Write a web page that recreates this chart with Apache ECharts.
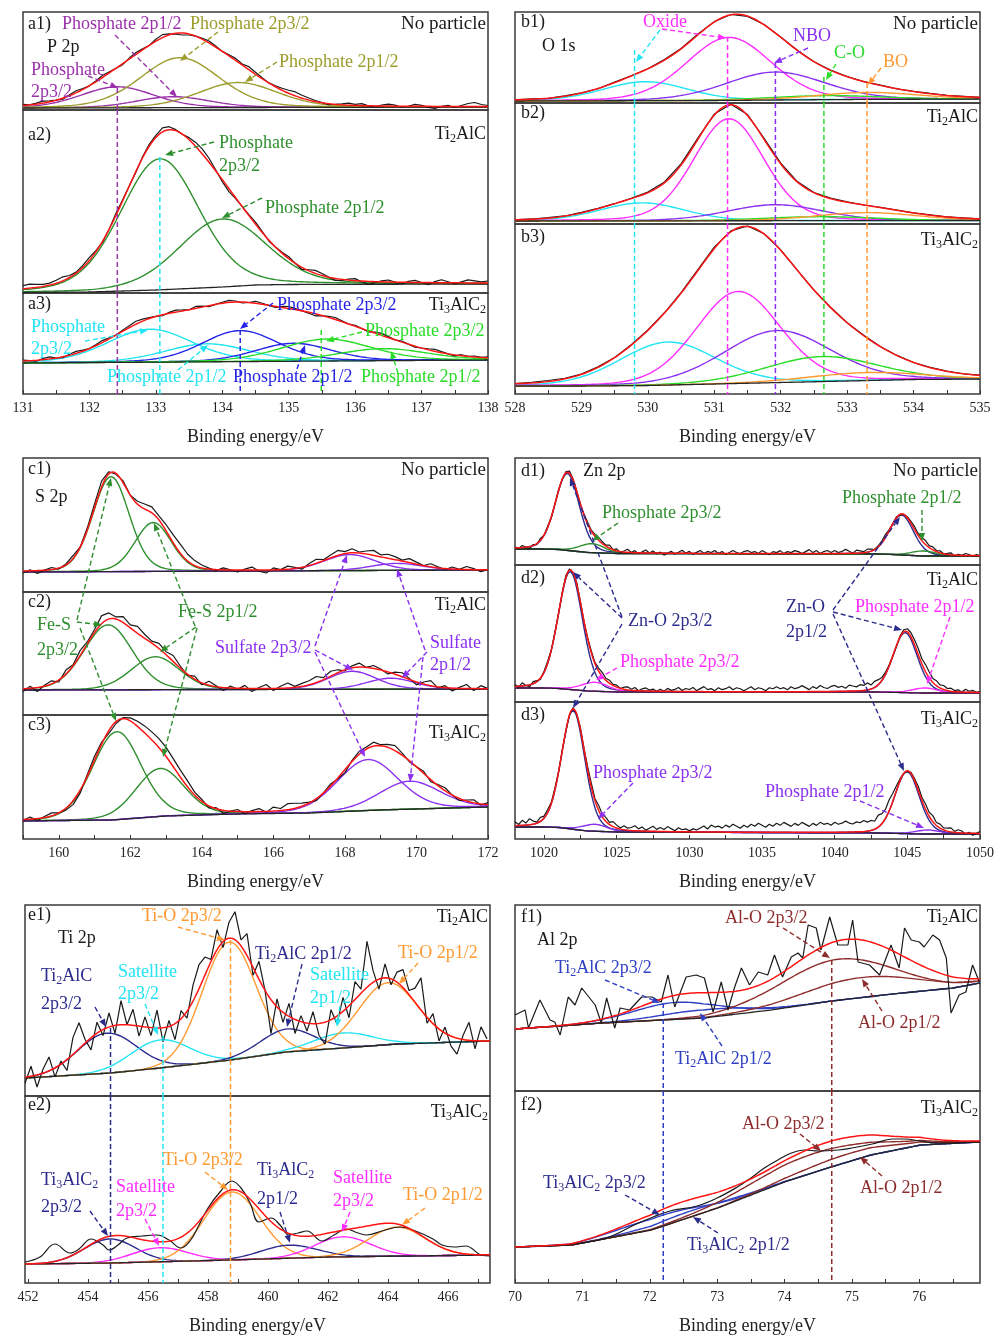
<!DOCTYPE html>
<html>
<head>
<meta charset="utf-8">
<title>XPS spectra</title>
<script src="https://cdn.jsdelivr.net/npm/echarts@6.0.0/dist/echarts.min.js"></script>
<style>
html,body{margin:0;padding:0;background:#fff;}
#chart{width:1006px;height:1340px;}
</style>
</head>
<body>
<div id="chart"></div>
<script>
// ================= DATA (intensity in arbitrary units) =================
// axis ranges and tick labels (binding energy, eV)
const rangeA = [131, 138];   const labelsA = [131,132,133,134,135,136,137,138];
const rangeB = [528, 535];   const labelsB = [528,529,530,531,532,533,534,535];
const rangeC = [159, 172];   const labelsC = [160,162,164,166,168,170,172];
const rangeD = [1018, 1050]; const labelsD = [1020,1025,1030,1035,1040,1045,1050];
const rangeE = [451.9, 467.4]; const labelsE = [452,454,456,458,460,462,464,466];
const rangeF = [70, 76.9];   const labelsF = [70,71,72,73,74,75,76];

// fitted components: [centre eV, height, FWHM eV]; backgrounds: [eV, level]
// ---- P 2p ----
const peaksA1 = [[132.42,21,1.3],[133.26,11,1.3],[133.36,50,1.4],[134.24,25,1.4]];
const bgA1 = [[131,2],[138,3]];
const noiseA1 = [1,0,1,2,1,0,-1,1,2,1, 0,1,2,1,0,-1,1,2,1,0, 2,3,1,-1,-2,-1,0,1,2,1, 0,1,2,1,3,2,1,0,1,2, 3,4,3,2,1,0,-1,0,1,2, 1,2,0,-1,1,2,1,-1,0,2, 1,-1,-2,0,1,-1,1,3,4,2, 1];
const peaksA2 = [[133.06,131,1.4],[134.0,68,1.55]];
const bgA2 = [[131,0.5],[132,1],[133,3],[134,6],[134.5,8],[135,8.5],[138,9]];
const noiseA2 = [3,4,3,2,2,3,4,2,1,2, 3,1,-1,0,2,1,0,-1,1,2, 2,4,3,1,0,2,4,5,4,1, -2,-3,-1,0,1,2,1,-1,0,1, 2,0,-2,1,3,2,0,-2,-1,1, 2,-1,-3,-1,1,2,0,-2,1,2, 0,-2,1,3,1,-1,1,3,2,1, 2];
const peaksA3 = [[132.91,33,1.5],[133.77,18,1.5],[134.27,31,1.35],[135.07,18,1.35],[135.57,22,1.6],[136.42,12,1.6]];
const bgA3 = [[131,31],[138,34]];
const noiseA3 = [1,0,-1,1,2,0,-1,1,2,1, 0,1,2,1,0,1,2,3,2,1, 0,-1,1,2,1,0,2,1,-1,0, 1,2,1,-1,0,2,1,0,-1,1, 2,1,0,-1,-2,0,1,2,1,0, 1,0,-1,1,2,1,0,1,0,-1, 0,1,2,1,0,-1,1,0,1,0, 1];
// ---- O 1s ----
const peaksB1 = [[529.96,19,1.5],[531.22,63,1.5],[531.92,28,1.76],[532.67,4,2.0],[533.32,7,1.8]];
const bgB1 = [[528,2],[531,2.5],[533,3.5],[535,4]];
const noiseB1 = [0,0.3,-0.2,0.4,0.2,-0.3,0.5,0.3,0,0.6,0.4,0.8,0.5,0.2,-0.3,0.2,0.4,0.1,-0.2,0.3,0.2,0,0.3,-0.2,0.1,0.3,0,0.2,0];
const peaksB2 = [[529.91,18,1.5],[531.22,102,1.25],[531.92,16,1.7],[532.6,4,2.0],[533.3,8,1.8]];
const bgB2 = [[528,3],[535,3.5]];
const noiseB2 = [0,0.2,0.4,0.1,0.5,0.3,0,0.4,0.6,0.8,1.2,1.5,1.0,0.6,1.0,1.2,0.8,0.4,0.2,0.5,0.3,0,0.4,0.2,0.1,0.3,0,0.2,0];
const peaksB3 = [[530.3,43,1.7],[531.36,92,1.5],[531.95,52,1.9],[532.62,25,2.0],[533.3,8,2.0]];
const bgB3 = [[528,8],[529,8],[530,8.5],[531,10],[532,11.5],[533,13],[534,14.5],[535,15]];
const noiseB3 = [0,0.5,1.0,0.6,0.3,0.5,0.2,0.6,0.4,0.2,0.5,1.0,1.4,0.8,0.5,0.2,0.4,0.1,-0.2,0.3,0,0.4,0.2,0.1,-0.1,0.3,0.2,0,0.1];
// ---- S 2p ----
const peaksC1 = [[161.46,95,1.2],[162.64,49,1.2],[168.13,16,1.7],[169.45,7,1.7]];
const bgC1 = [[159,20],[172,22]];
const noiseC1 = [-2,1,-3,0,2,-1,1,3,0,2, 4,6,2,-1,2,0,3,5,6,4, 6,8,9,7,5,3,1,-1,2,0, -2,1,3,-1,-3,2,0,3,1,-2, 2,4,1,3,5,2,4,1,3,5, 2,4,3,1,4,2,0,3,1,-1, 2,0,3,1,-2,0];
const peaksC2 = [[161.38,65,1.6],[162.7,33,1.6],[168.2,18,1.6],[169.28,11,1.6]];
const bgC2 = [[159,25],[172,26]];
const noiseC2 = [-3,2,-4,1,3,-2,4,1,5,2, 3,8,6,2,6,3,7,4,2,5, 3,6,2,-1,3,-2,4,1,-3,2, -1,3,-3,1,4,-2,2,5,1,3, 4,6,2,5,3,-1,2,4,0,3, 1,-2,2,4,1,-3,2,5,-1,2, -3,1,4,-2,3,0];
const peaksC3 = [[161.62,88,1.6],[162.83,48,1.6],[168.64,51,2.0],[169.81,28,2.0]];
const bgC3 = [[159,18],[161.5,19],[163,23],[165,25],[167,26],[169,29],[172,32]];
const noiseC3 = [-1,2,-2,1,3,0,-2,-4,-3,2, 4,2,-3,-2,1,3,5,7,8,9, 9,8,7,6,3,2,-2,1,-3,0, 2,-2,1,3,-1,4,2,6,5,3, 1,-2,0,2,-1,-3,1,3,2,4, 1,3,5,2,-1,0,2,-2,1,3, 0,-2,1,3,-1,2];
// ---- Zn 2p ----
const peaksD1 = [[1021.6,77,1.95],[1023.3,9,2.0],[1044.6,40,1.95],[1046.1,5,2.0]];
const bgD1 = [[1018,16],[1020,16],[1021,15.5],[1023,12.5],[1025,11.5],[1043,11],[1044,10.5],[1046,9],[1050,9]];
const noiseD1 = [1,-1,2,0,-2,1,-1,2, 0,1,-1,0,1,0,1,2, 1,0,-1,1,2,1,2,3, 2,1,3,0,2,-1,1,3, 0,2,-1,1,3,0,2,-1, 1,-2,0,2,-1,1,3,0, 2,-1,1,3,0,2,1,3, 0,2,-1,1,3,1,0,2, 3,1,2,0,3,1,-1,2, 1,3,0,2,1,3,2,0, 2,4,1,3,0,2,3,1, 3,1,2,4,2,0,3,2, 1,3,2,0,1,2,3,1, 0,1,-1,0,1,2,3,2, 3,4,2,3,1,2,0,1, 2,-1,1,0,2,1,-1,1, 0];
const peaksD2 = [[1021.8,118,2.0],[1023.5,9,2.2],[1044.85,60,2.0],[1046.2,5,2.0]];
const bgD2 = [[1018,14],[1020,14],[1021,13.5],[1023,11],[1025,10],[1043,10],[1046,9],[1050,9]];
const noiseD2 = [2,-1,3,0,-2,2,1,-1, 1,2,0,1,0,1,2,1, 0,2,1,0,1,2,1,3, 4,2,3,1,2,0,2,3, 1,3,0,2,3,1,2,0, 2,0,3,1,2,4,1,3, 2,4,1,3,5,2,3,1, 4,2,3,5,2,4,3,1, 3,5,2,4,3,1,4,3, 5,3,4,2,5,3,4,6, 4,2,5,3,6,4,3,5, 6,4,5,3,6,5,4,6, 5,7,4,6,5,3,2,1, 0,-1,1,2,3,4,5,6, 5,7,6,4,5,3,4,2, 3,1,2,0,3,1,2,0, 1];
const peaksD3 = [[1022.0,119,1.9],[1023.5,7,2.0],[1044.98,62,2.0],[1046.4,4,2.0]];
const bgD3 = [[1018,12],[1020,12],[1021,11.5],[1023,8],[1025,7],[1043,6],[1046,5],[1050,5]];
const noiseD3 = [4,1,5,2,6,3,1,4, 2,3,1,2,0,1,-1,0, 1,0,2,1,3,4,2,5, 3,4,2,5,3,1,4,2, 3,5,2,4,1,3,5,2, 4,2,5,3,1,4,2,3, 1,3,2,4,6,3,7,5, 6,4,7,5,8,6,4,7, 5,8,6,9,7,5,8,6, 9,7,10,8,6,9,7,10, 8,6,9,7,10,8,9,7, 10,8,9,11,9,8,10,9, 11,9,10,8,12,10,9,11, 8,5,2,0,-1,1,2,4, 3,5,4,6,3,4,2,3, 4,1,3,2,-1,1,-2,0, 2];
// ---- Ti 2p ----
const peaksE1 = [[454.63,40,2.3],[456.4,28,2.3],[458.7,118,2.1],[460.63,23,2.1],[462.5,15,2.3],[464.0,62,2.3]];
const bgE1 = [[451.9,18],[454.75,23],[456.4,28],[458.75,36],[460.6,44],[462.5,48],[464.3,52],[467.4,55]];
const noiseE1 = [-6,10,-12,4,14,-9,3,-11,17,26, 4,-12,11,-6,14,-8,24,0,16,-10, 10,-8,18,-14,6,-16,8,-7,16,24, 18,2,20,-6,16,28,6,22,-8,18, 0,-34,8,-10,13,-14,6,-8,12,-12, -22,10,-8,14,-12,18,4,46,12,-10, 14,-6,10,18,4,14,32,-6,10,-12, 6,-10,-16,4,18,-8,14,2];
const peaksE2 = [[454.73,24,2.0],[456.4,14,2.2],[458.8,68,2.2],[460.7,13,2.2],[462.5,20,2.2],[464.3,29,2.2]];
const bgE2 = [[451.9,19],[454.75,20],[458.75,23],[462,26],[467.4,28]];
const rawE2 = [[451.9,21],[452.4,26],[452.9,39],[453.4,30],[453.7,34],[454.1,44],[454.5,38],[454.7,33],[455.0,38],[455.3,45],[455.8,47],[456.3,48],[456.7,43],[457.1,35],[457.4,42],[457.7,58],[458.0,75],[458.4,91],[458.8,102],[459.1,95],[459.4,80],[459.7,61],[460.1,65],[460.4,58],[460.7,48],[461.0,50],[461.3,52],[461.8,42],[462.2,48],[462.6,54],[463.0,50],[463.3,48],[463.8,52],[464.4,56],[465.0,51],[465.5,44],[465.8,38],[466.2,36],[466.6,37],[467.1,28],[467.4,27]];
// ---- Al 2p ----
const peaksF1 = [[72.41,17,1.5],[72.81,8,1.5],[74.79,41,2.0],[75.14,20,2.0]];
const bgF1 = [[70,62],[71.3,68],[72.8,73],[73.8,81],[74.7,90],[75.6,97],[76.5,103],[76.9,108]];
const rawF1 = [[70.0,76],[70.15,81],[70.2,63],[70.37,91],[70.52,71],[70.59,69],[70.67,56],[70.79,94],[70.89,86],[70.99,103],[71.19,86],[71.28,68],[71.36,93],[71.48,63],[71.56,83],[71.7,81],[71.88,94],[72.03,94],[72.17,89],[72.27,116],[72.37,84],[72.54,114],[72.69,116],[72.81,113],[72.94,79],[73.06,109],[73.16,81],[73.26,104],[73.36,123],[73.48,106],[73.61,119],[73.75,116],[73.85,136],[73.97,114],[74.1,134],[74.2,138],[74.27,133],[74.35,166],[74.47,163],[74.54,141],[74.67,174],[74.79,146],[74.94,146],[75.01,171],[75.09,129],[75.26,126],[75.41,116],[75.58,146],[75.7,123],[75.78,163],[75.88,151],[76.0,149],[76.07,144],[76.2,156],[76.3,151],[76.4,133],[76.47,78],[76.59,96],[76.69,99],[76.79,126],[76.89,109]];
const peaksF2 = [[72.18,11,1.5],[72.62,6,1.5],[74.45,19,2.2],[74.95,8,1.8]];
const bgF2 = [[70,36],[70.84,38],[72.02,53],[73.01,75],[74.0,101],[74.69,116],[75.28,128],[76.02,138],[76.89,141]];
const rawF2 = [[70,36],[70.5,37],[71,40],[71.4,46],[71.8,59],[72.05,66],[72.3,72],[72.7,77],[73.0,85],[73.3,96],[73.5,105],[73.7,115],[73.9,123],[74.1,130],[74.3,133],[74.5,132],[74.8,133],[75.0,135],[75.3,139],[75.6,144],[75.8,144],[76.0,142],[76.3,140],[76.9,141]];

// reference (dashed) peak positions, eV; h = level where the line starts in the first panel
const refLines = [
 {x:132.42, from:'a1', h:22, c:'purpleA'}, {x:133.06, from:'a2', h:136, c:'cyan'},
 {x:134.27, from:'a3', h:64, c:'blue'}, {x:135.49, from:'a3', h:64, c:'lime'},
 {x:529.8, from:'b1', h:53, c:'cyan'}, {x:531.2, from:'b1', h:66, c:'magenta'},
 {x:531.92, from:'b1', h:40, c:'violet'}, {x:532.65, from:'b1', h:26, c:'lime'}, {x:533.3, from:'b1', h:20, c:'orange'},
 {x:454.75, from:'e1', h:68, c:'navy'}, {x:456.5, from:'e1', h:60, c:'cyan'}, {x:458.75, from:'e1', h:156, c:'orange'},
 {x:72.2, from:'f1', h:88, c:'royal'}, {x:74.7, from:'f1', h:131, c:'brown'}
];

// ================= LAYOUT & STYLE =================
const FONT = '"Liberation Serif", "Times New Roman", serif';
const COLORS = {k:'#1a1a1a', red:'#ff1414', raw:'#1a1a1a', bg:'#262626', purpleA:'#9a32aa', olive:'#9c9c2c',
  green:'#2f8f2f', cyan:'#22e4f2', blue:'#2424e6', lime:'#28dc28', magenta:'#ff2cff', violet:'#8a30f0',
  orange:'#ff9a33', navy:'#2c2c8e', royal:'#3040c4', brown:'#8e2c2c'};

const GROUPS = {
  a:{left:23, right:488, range:rangeA, labels:labelsA, minor:0.5},
  b:{left:515, right:980, range:rangeB, labels:labelsB, minor:0.5},
  c:{left:23, right:488, range:rangeC, labels:labelsC, minor:1},
  d:{left:515, right:980, range:rangeD, labels:labelsD, minor:2.5},
  e:{left:25, right:490, range:rangeE, labels:labelsE, minor:1},
  f:{left:515, right:980, range:rangeF, labels:labelsF, minor:0.5}
};

const PANELS = [
  {id:'a1', g:'a', top:12,  bottom:110, peaks:peaksA1, bg:bgA1, noise:noiseA1, step:0.1, eta:0.2, colors:['purpleA','purpleA','olive','olive']},
  {id:'a2', g:'a', top:110, bottom:293, peaks:peaksA2, bg:bgA2, noise:noiseA2, step:0.1, eta:0.2, colors:['green','green']},
  {id:'a3', g:'a', top:293, bottom:394, peaks:peaksA3, bg:bgA3, noise:noiseA3, step:0.1, eta:0.2, colors:['cyan','cyan','blue','blue','lime','lime'], last:true},
  {id:'b1', g:'b', top:12,  bottom:103, peaks:peaksB1, bg:bgB1, noise:noiseB1, step:0.25, eta:0.15, colors:['cyan','magenta','violet','lime','orange']},
  {id:'b2', g:'b', top:103, bottom:224, peaks:peaksB2, bg:bgB2, noise:noiseB2, step:0.25, eta:0.15, colors:['cyan','magenta','violet','lime','orange']},
  {id:'b3', g:'b', top:224, bottom:394, peaks:peaksB3, bg:bgB3, noise:noiseB3, step:0.25, eta:0.15, colors:['cyan','magenta','violet','lime','orange'], last:true},
  {id:'c1', g:'c', top:458, bottom:592, peaks:peaksC1, bg:bgC1, noise:noiseC1, step:0.2, eta:0.15, colors:['green','green','violet','violet']},
  {id:'c2', g:'c', top:592, bottom:715, peaks:peaksC2, bg:bgC2, noise:noiseC2, step:0.2, eta:0.15, colors:['green','green','violet','violet']},
  {id:'c3', g:'c', top:715, bottom:839, peaks:peaksC3, bg:bgC3, noise:noiseC3, step:0.2, eta:0.15, colors:['green','green','violet','violet'], last:true},
  {id:'d1', g:'d', top:458, bottom:565, peaks:peaksD1, bg:bgD1, noise:noiseD1, step:0.25, eta:0.2, colors:['navy','green','navy','green']},
  {id:'d2', g:'d', top:565, bottom:702, peaks:peaksD2, bg:bgD2, noise:noiseD2, step:0.25, eta:0.2, colors:['navy','magenta','navy','magenta']},
  {id:'d3', g:'d', top:702, bottom:839, peaks:peaksD3, bg:bgD3, noise:noiseD3, step:0.25, eta:0.2, colors:['navy','violet','navy','violet'], last:true},
  {id:'e1', g:'e', top:905, bottom:1096, peaks:peaksE1, bg:bgE1, noise:noiseE1, step:0.2, eta:0.0, colors:['navy','cyan','orange','navy','cyan','orange']},
  {id:'e2', g:'e', top:1096, bottom:1283, peaks:peaksE2, bg:bgE2, raw:rawE2, smooth:true, eta:0.0, colors:['navy','magenta','orange','navy','magenta','orange'], last:true},
  {id:'f1', g:'f', top:905, bottom:1091, peaks:peaksF1, bg:bgF1, raw:rawF1, eta:0.0, colors:['royal','royal','brown','brown']},
  {id:'f2', g:'f', top:1091, bottom:1283, peaks:peaksF2, bg:bgF2, raw:rawF2, smooth:true, eta:0.0, colors:['royal','royal','brown','brown'], last:true}
];

const TEXTS = [
 [28,24,'a1)','k'],[47,47,'P 2p','k'],[486,24,'No particle','k','right',19],
 [62,24,'Phosphate 2p1/2','purpleA'],[190,24,'Phosphate 2p3/2','olive'],[279,62,'Phosphate 2p1/2','olive'],
 [31,70,'Phosphate','purpleA'],[31,92,'2p3/2','purpleA'],
 [28,135,'a2)','k'],[486,134,'Ti_2AlC','k','right'],
 [219,143,'Phosphate','green'],[219,166,'2p3/2','green'],[265,208,'Phosphate 2p1/2','green'],
 [28,304,'a3)','k'],[486,305,'Ti_3AlC_2','k','right'],
 [277,305,'Phosphate 2p3/2','blue'],[365,331,'Phosphate 2p3/2','lime'],
 [31,327,'Phosphate','cyan'],[31,349,'2p3/2','cyan'],
 [107,377,'Phosphate 2p1/2','cyan'],[233,377,'Phosphate 2p1/2','blue'],[361,377,'Phosphate 2p1/2','lime'],
 [521,22,'b1)','k'],[542,46,'O 1s','k'],[978,24,'No particle','k','right',19],
 [643,22,'Oxide','magenta'],[793,36,'NBO','violet'],[834,53,'C-O','lime'],[883,62,'BO','orange'],
 [521,113,'b2)','k'],[978,117,'Ti_2AlC','k','right'],
 [521,237,'b3)','k'],[978,240,'Ti_3AlC_2','k','right'],
 [28,469,'c1)','k'],[35,497,'S 2p','k'],[486,470,'No particle','k','right',19],
 [28,602,'c2)','k'],[486,605,'Ti_2AlC','k','right'],
 [37,625,'Fe-S','green'],[37,650,'2p3/2','green'],[178,612,'Fe-S 2p1/2','green'],
 [215,648,'Sulfate 2p3/2','violet'],[430,643,'Sulfate','violet'],[430,665,'2p1/2','violet'],
 [28,725,'c3)','k'],[486,733,'Ti_3AlC_2','k','right'],
 [521,471,'d1)','k'],[583,471,'Zn 2p','k'],[978,471,'No particle','k','right',19],
 [602,513,'Phosphate 2p3/2','green'],[842,498,'Phosphate 2p1/2','green'],
 [521,578,'d2)','k'],[978,580,'Ti_2AlC','k','right'],
 [628,621,'Zn-O 2p3/2','navy'],[786,607,'Zn-O','navy'],[786,632,'2p1/2','navy'],
 [855,607,'Phosphate 2p1/2','magenta'],[620,662,'Phosphate 2p3/2','magenta'],
 [521,715,'d3)','k'],[978,719,'Ti_3AlC_2','k','right'],
 [593,773,'Phosphate 2p3/2','violet'],[765,792,'Phosphate 2p1/2','violet'],
 [28,915,'e1)','k'],[58,938,'Ti 2p','k'],[488,917,'Ti_2AlC','k','right'],
 [142,916,'Ti-O 2p3/2','orange'],[41,976,'Ti_2AlC','navy'],[41,1004,'2p3/2','navy'],
 [118,972,'Satellite','cyan'],[118,994,'2p3/2','cyan'],[255,954,'Ti_2AlC 2p1/2','navy'],
 [310,975,'Satellite','cyan'],[310,998,'2p1/2','cyan'],[398,953,'Ti-O 2p1/2','orange'],
 [28,1105,'e2)','k'],[488,1112,'Ti_3AlC_2','k','right'],
 [41,1180,'Ti_3AlC_2','navy'],[41,1207,'2p3/2','navy'],[116,1187,'Satellite','magenta'],[116,1211,'2p3/2','magenta'],
 [163,1160,'Ti-O 2p3/2','orange'],[257,1170,'Ti_3AlC_2','navy'],[257,1199,'2p1/2','navy'],
 [333,1178,'Satellite','magenta'],[333,1201,'2p3/2','magenta'],[403,1195,'Ti-O 2p1/2','orange'],
 [521,917,'f1)','k'],[537,940,'Al 2p','k'],[978,917,'Ti_2AlC','k','right'],
 [725,918,'Al-O 2p3/2','brown'],[555,968,'Ti_2AlC 2p3/2','royal'],[675,1059,'Ti_2AlC 2p1/2','royal'],[858,1023,'Al-O 2p1/2','brown'],
 [521,1105,'f2)','k'],[978,1108,'Ti_3AlC_2','k','right'],
 [742,1124,'Al-O 2p3/2','brown'],[543,1183,'Ti_3AlC_2 2p3/2','navy'],[687,1245,'Ti_3AlC_2 2p1/2','navy'],[860,1188,'Al-O 2p1/2','brown']
];

const ARROWS = [
 [115,35,177,97,'purpleA'],[218,32,180,61,'olive'],[277,62,245,82,'olive'],[88,76,118,88,'purpleA'],
 [214,142,165,155,'green'],[262,198,222,218,'green'],
 [273,303,240,329,'blue'],[362,332,326,341,'lime'],[85,341,148,330,'cyan'],
 [178,370,208,345,'cyan'],[297,369,305,345,'blue'],[398,373,391,351,'lime'],
 [660,30,636,62,'cyan'],[662,29,726,38,'magenta'],[808,48,774,63,'violet'],[836,64,826,80,'lime'],[881,68,868,85,'orange'],
 [77,620,111,478,'green'],[77,622,102,625,'green'],[80,628,116,721,'green'],
 [195,626,154,523,'green'],[196,627,160,652,'green'],[197,628,163,757,'green'],
 [315,646,347,555,'violet'],[315,650,353,670,'violet'],[315,652,365,757,'violet'],
 [425,650,397,569,'violet'],[427,652,402,678,'violet'],[423,657,410,782,'violet'],
 [618,523,592,541,'green'],[922,510,922,541,'green'],
 [622,617,570,478,'navy'],[622,618,573,572,'navy'],[622,624,573,708,'navy'],
 [833,610,900,517,'navy'],[833,612,902,630,'navy'],[833,614,904,771,'navy'],
 [950,617,927,684,'magenta'],[617,668,596,680,'magenta'],
 [633,783,598,819,'violet'],[860,801,924,828,'violet'],
 [178,927,225,940,'orange'],[95,1007,106,1027,'navy'],[145,1004,158,1035,'cyan'],[302,964,287,1027,'navy'],[340,1006,337,1027,'cyan'],[418,963,399,984,'orange'],
 [90,1211,108,1236,'navy'],[145,1219,159,1246,'magenta'],[205,1172,228,1190,'orange'],[280,1212,290,1243,'navy'],[350,1212,342,1232,'magenta'],[425,1208,402,1225,'orange'],
 [783,928,830,958,'brown'],[605,980,660,1003,'royal'],[722,1046,700,1013,'royal'],[882,1011,862,979,'brown'],
 [800,1134,821,1151,'brown'],[625,1195,660,1215,'navy'],[718,1233,693,1217,'navy'],[882,1176,860,1157,'brown']
];

// ================= BUILD =================
function pv(x, pk, eta){ const d=(x-pk[0])/pk[2]; return pk[1]*((1-eta)*Math.exp(-4*Math.LN2*d*d) + eta/(1+4*d*d)); }
function bgAt(bg, x){
  if (x <= bg[0][0]) return bg[0][1];
  for (let i=1;i<bg.length;i++){ if (x <= bg[i][0]){ const a=bg[i-1], b=bg[i]; return a[1]+(b[1]-a[1])*(x-a[0])/(b[0]-a[0]); } }
  return bg[bg.length-1][1];
}
function envAt(p, x){ let s=bgAt(p.bg,x); p.peaks.forEach(pk=>{ s+=pv(x,pk,p.eta); }); return s; }
function tickList(g){
  let t=g.labels[0]; while (t-g.minor >= g.range[0]-1e-9) t-=g.minor;
  const out=[]; for (; t<=g.range[1]+1e-9; t+=g.minor) out.push(+t.toFixed(3)); return out;
}

const grids=[], xAxes=[], yAxes=[], series=[];
const panelIndex = {};
PANELS.forEach((p,i)=>{
  panelIndex[p.id]=i;
  const g=GROUPS[p.g], H=p.bottom-p.top;
  grids.push({left:g.left, top:p.top, width:g.right-g.left, height:H, show:true, borderColor:'#3a3a3a', borderWidth:1.5, backgroundColor:'transparent'});
  xAxes.push({type:'value', gridIndex:i, min:g.range[0], max:g.range[1], splitLine:{show:false}, axisLine:{show:false},
    axisTick:{show:!!p.last, inside:true, length:4, customValues:tickList(g), lineStyle:{color:'#333', width:1}},
    axisLabel:{show:!!p.last, customValues:g.labels, formatter:(v)=>String(v), fontFamily:FONT, fontSize:14, color:'#222', margin:7, showMinLabel:true, showMaxLabel:true, hideOverlap:false},
    name: p.last ? 'Binding energy/eV' : '', nameLocation:'middle', nameGap:34,
    nameTextStyle:{fontFamily:FONT, fontSize:18, color:'#222'}});
  yAxes.push({type:'value', gridIndex:i, min:0, max:H, show:false});
  const N=400, xs=[]; for (let k=0;k<=N;k++) xs.push(g.range[0]+(g.range[1]-g.range[0])*k/N);
  const base={type:'line', xAxisIndex:i, yAxisIndex:i, showSymbol:false, silent:true, animation:false};
  p.peaks.forEach((pk,j)=>{
    series.push(Object.assign({}, base, {z:2, lineStyle:{color:COLORS[p.colors[j]], width:1.4},
      data: xs.map(x=>[x, bgAt(p.bg,x)+pv(x,pk,p.eta)])}));
  });
  series.push(Object.assign({}, base, {z:3, lineStyle:{color:COLORS.bg, width:1.3}, data: xs.map(x=>[x,bgAt(p.bg,x)])}));
  let raw;
  if (p.raw) raw = p.raw;
  else raw = p.noise.map((r,k)=>{ const x=g.range[0]+k*p.step; return [x, envAt(p,x)+r]; });
  series.push(Object.assign({}, base, {z:4, smooth: p.smooth?0.4:false, lineStyle:{color:COLORS.raw, width:1.2}, data: raw}));
  series.push(Object.assign({}, base, {z:5, lineStyle:{color:COLORS.red, width:1.5}, data: xs.map(x=>[x, envAt(p,x)])}));
});

// dashed reference lines through the stacked panels
refLines.forEach(v=>{
  const start=panelIndex[v.from], grp=PANELS[start].g;
  for (let i=start;i<PANELS.length && PANELS[i].g===grp;i++){
    const H=PANELS[i].bottom-PANELS[i].top;
    series.push({type:'line', xAxisIndex:i, yAxisIndex:i, showSymbol:false, silent:true, animation:false, z:6,
      lineStyle:{color:COLORS[v.c], width:1.5, type:[5,3]}, data:[[v.x, i===start ? v.h : H],[v.x,0]]});
  }
});

// annotations
function richify(s){ return s.split(/_(\d)/).map((t,k)=> t==='' ? '' : (k%2 ? '{s|'+t+'}' : '{n|'+t+'}')).join(''); }
const graphics=[];
TEXTS.forEach(t=>{
  const [x,y,s,col,align,size0]=t; const size=size0||18; const c=COLORS[col];
  graphics.push({type:'text', x:x, y:y, z:50, silent:true, style:{text:richify(s), align:align||'left', verticalAlign:'middle',
    rich:{n:{fontFamily:FONT, fontSize:size, fill:c, lineHeight:size+4, verticalAlign:'middle'},
          s:{fontFamily:FONT, fontSize:Math.round(size*0.66), fill:c, lineHeight:Math.round(size*0.66), verticalAlign:'bottom'}}}});
});
ARROWS.forEach(a=>{
  const [x1,y1,x2,y2,col]=a, c=COLORS[col];
  const dx=x2-x1, dy=y2-y1, L=Math.hypot(dx,dy)||1, ux=dx/L, uy=dy/L, hl=8, hw=3.2;
  const bx=x2-ux*hl, by=y2-uy*hl;
  graphics.push({type:'line', z:49, silent:true, shape:{x1:x1,y1:y1,x2:bx,y2:by}, style:{stroke:c, lineWidth:1.4, lineDash:[5,3]}});
  graphics.push({type:'polygon', z:49, silent:true, shape:{points:[[x2,y2],[bx-uy*hw,by+ux*hw],[bx+uy*hw,by-ux*hw]]}, style:{fill:c}});
});

const chart = echarts.init(document.getElementById('chart'));
chart.setOption({backgroundColor:'#fff', animation:false, grid:grids, xAxis:xAxes, yAxis:yAxes, series:series, graphic:graphics});
</script>
</body>
</html>
